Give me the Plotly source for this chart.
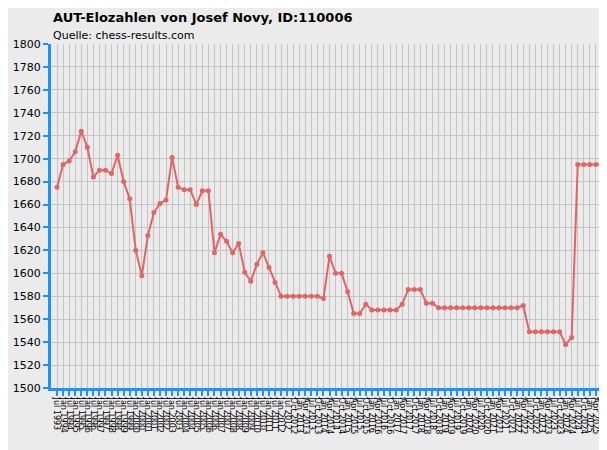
import plotly.graph_objects as go

# Datumslabels: halbjährlich bis Jul 2012, danach vierteljährlich
months = ["Jan", "Apr", "Jul", "Oct"]
dates = []
for y in range(1993, 2013):
    for m in ["Jan", "Jul"]:
        if (y == 1993 and m == "Jan"):
            continue
        dates.append(f"{m} {y}")
for y in range(2012, 2026):
    for m in months:
        if y == 2012 and m in ("Jan", "Apr", "Jul"):
            continue
        if y == 2025 and m == "Oct":
            continue
        dates.append(f"{m} {y}")

elo = [1675, 1695, 1698, 1706, 1724, 1710, 1684, 1690, 1690, 1687,
       1703, 1680, 1665, 1620, 1598, 1633, 1653, 1661, 1664, 1701,
       1675, 1673, 1673, 1660, 1672, 1672, 1618, 1634, 1628, 1618,
       1626, 1601, 1593, 1608, 1618, 1605, 1592, 1580, 1580, 1580,
       1580, 1580, 1580, 1580, 1578, 1615, 1600, 1600, 1584, 1565,
       1565, 1573, 1568, 1568, 1568, 1568, 1568, 1573, 1586, 1586,
       1586, 1574, 1574, 1570, 1570, 1570, 1570, 1570, 1570, 1570,
       1570, 1570, 1570, 1570, 1570, 1570, 1570, 1572, 1549, 1549,
       1549, 1549, 1549, 1549, 1538, 1544, 1695, 1695, 1695, 1695,
       1695]

dates = dates[:len(elo)]

fig = go.Figure(go.Scatter(
    x=dates, y=elo, mode="lines+markers",
    line=dict(color="#e06666", width=2),
    marker=dict(color="#e06666", size=5),
))

fig.update_layout(
    width=607, height=450,
    paper_bgcolor="#ebebeb", plot_bgcolor="#ebebeb",
    margin=dict(l=43, r=7, t=36, b=70, autoexpand=False),
    showlegend=False,
    font=dict(family="DejaVu Sans", size=11, color="black"),
    annotations=[
        dict(text="<b>AUT-Elozahlen von Josef Novy, ID:110006</b>", x=0, y=1,
             xref="paper", yref="paper", xanchor="left", yanchor="bottom",
             xshift=0, yshift=17, showarrow=False, font=dict(size=13)),
        dict(text="Quelle: chess-results.com", x=0, y=1,
             xref="paper", yref="paper", xanchor="left", yanchor="bottom",
             xshift=0, yshift=0, showarrow=False, font=dict(size=11)),
    ],
)
fig.update_xaxes(
    type="category", tickangle=90, tickfont=dict(size=8),
    tickmode="array", tickvals=dates, ticktext=dates,
    showgrid=True, gridcolor="#c4c4c4", gridwidth=1,
    showline=True, linecolor="#1e90ff", linewidth=3,
    ticks="outside", tickcolor="#1e90ff", ticklen=5, tickwidth=2,
    range=[-1, len(elo)], automargin=False,
)
fig.update_yaxes(
    range=[1500, 1800], dtick=20,
    showgrid=True, gridcolor="#c4c4c4", gridwidth=1,
    showline=True, linecolor="#1e90ff", linewidth=3,
    ticks="outside", tickcolor="#1e90ff", ticklen=5, tickwidth=2,
    zeroline=False, automargin=False,
)

fig.write_html("out.html")
